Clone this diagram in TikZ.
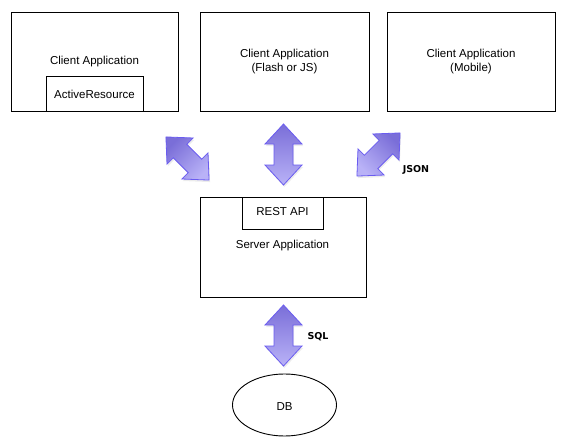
\documentclass[tikz,border=0pt]{standalone}
\usepackage{fontspec}
\setmainfont{Liberation Sans}
\newfontfamily\lblfont{DejaVu Sans}
\usetikzlibrary{shapes.geometric,shadows}
\definecolor{arrdark}{HTML}{7A6ED8}
\definecolor{arrlight}{HTML}{B9B2F7}
\definecolor{arredge}{HTML}{6A5CF0}
\tikzset{
  box/.style={draw=black, line width=0.9pt, inner sep=0pt},
  txt/.style={font=\fontsize{11.5}{13.5}\selectfont, align=center, inner sep=0pt},
  lbl/.style={font=\lblfont\bfseries\fontsize{9.5}{11}\selectfont, inner sep=0pt},
  arrfill/.style={draw=arredge, line width=0.8pt, top color=arrdark, bottom color=arrlight,
    drop shadow={opacity=0.15, shadow xshift=1pt, shadow yshift=-2pt}},
}
\newcommand{\dblarrowpath}{(0,-30.5) -- (18.5,-10.5) -- (9.5,-10.5) -- (9.5,10.5) -- (18.5,10.5) -- (0,30.5) -- (-18.5,10.5) -- (-9.5,10.5) -- (-9.5,-10.5) -- (-18.5,-10.5) -- cycle}
\begin{document}
\begin{tikzpicture}[x=1pt,y=-1pt]
\useasboundingbox (0,0) rectangle (566,447);
% client boxes
\node[box, minimum width=167pt, minimum height=99pt] (c1) at (94.5,61.5) {};
\node[box, minimum width=97pt, minimum height=35pt] (ar) at (94.5,93.5) {};
\node[txt] (c1t) at (94.5,62) {Client Application};
\node[txt] (art) at (94.5,94) {ActiveResource};
\node[box, minimum width=169pt, minimum height=99pt] (c2) at (284.5,61.5) {};
\node[txt] (c2t) at (284.5,61.5) {Client Application\\(Flash or JS)};
\node[box, minimum width=168pt, minimum height=99pt] (c3) at (471,61.5) {};
\node[txt] (c3t) at (471,61.5) {Client Application\\(Mobile)};
% server
\node[box, minimum width=166pt, minimum height=100pt] (srv) at (283,247) {};
\node[box, minimum width=81pt, minimum height=32pt] (api) at (282.5,213) {};
\node[txt] (apit) at (282.5,212) {REST API};
\node[txt] (srvt) at (282.5,246) {Server Application};
% db
\node[box, ellipse, minimum width=104pt, minimum height=62pt] (db) at (284.5,405) {};
\node[txt] (dbt) at (284.5,407) {DB};
% arrows
\begin{scope}[shift={(283.5,154.5)}]
  \path[arrfill] \dblarrowpath;
\end{scope}
\begin{scope}[shift={(283.5,335.5)}]
  \path[arrfill] \dblarrowpath;
\end{scope}
\begin{scope}[shift={(187.5,158.5)}, rotate=45]
  \path[arrfill, shading angle=45] \dblarrowpath;
\end{scope}
\begin{scope}[shift={(378.5,154.5)}, rotate=-45]
  \path[arrfill, shading angle=-45] \dblarrowpath;
\end{scope}
\node[lbl] (json) at (416,170) {JSON};
\node[lbl] (sql) at (318,337) {SQL};
\end{tikzpicture}
\end{document}
